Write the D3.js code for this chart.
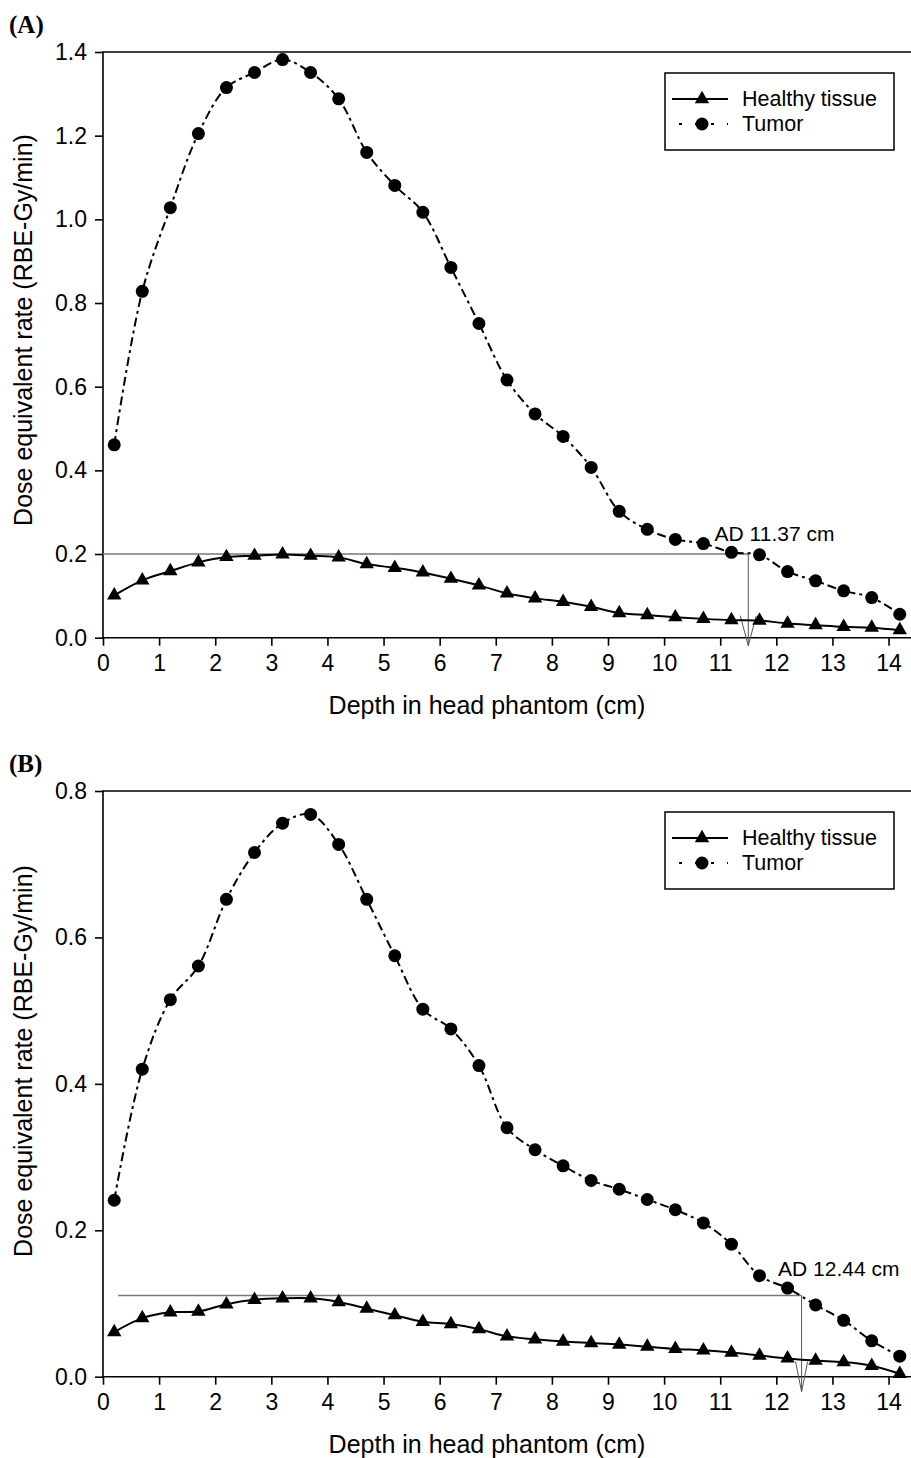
<!DOCTYPE html>
<html lang="en">
<head>
<meta charset="UTF-8">
<title>Dose equivalent rate vs depth</title>
<script src="https://cdnjs.cloudflare.com/ajax/libs/d3/7.8.5/d3.min.js"></script>
<style>
  * { margin: 0; padding: 0; }
  body { background: #fff; }
  svg { display: block; font-family: "Liberation Sans", Arial, sans-serif; }
  .axis line { stroke: #000; stroke-width: 1.6; }
  .axis .domain { display: none; }
  .axis text { font-size: 23px; fill: #000; }
</style>
</head>
<body>
<svg id="chart" width="911" height="1458"></svg>
<script>
// depth positions (cm)
const depth = [0.2, 0.7, 1.2, 1.7, 2.2, 2.7, 3.2, 3.7, 4.2, 4.7, 5.2, 5.7, 6.2, 6.7, 7.2,
               7.7, 8.2, 8.7, 9.2, 9.7, 10.2, 10.7, 11.2, 11.7, 12.2, 12.7, 13.2, 13.7, 14.2];

// panel A
const healthyA = [0.101, 0.137, 0.159, 0.180, 0.193, 0.196, 0.199, 0.196, 0.192, 0.176, 0.167, 0.156, 0.141, 0.125, 0.106,
                  0.094, 0.086, 0.074, 0.059, 0.054, 0.049, 0.045, 0.042, 0.041, 0.034, 0.030, 0.026, 0.024, 0.018];
const tumorA = [0.461, 0.828, 1.028, 1.205, 1.315, 1.351, 1.382, 1.351, 1.288, 1.160, 1.081, 1.017, 0.885, 0.751, 0.616,
                0.535, 0.481, 0.407, 0.302, 0.259, 0.235, 0.225, 0.204, 0.198, 0.158, 0.136, 0.112, 0.096, 0.056];

// panel B
const healthyB = [0.061, 0.080, 0.088, 0.089, 0.099, 0.105, 0.107, 0.107, 0.102, 0.093, 0.084, 0.075, 0.072, 0.065, 0.055,
                  0.051, 0.048, 0.046, 0.044, 0.041, 0.038, 0.036, 0.033, 0.029, 0.025, 0.022, 0.020, 0.015, 0.004];
const tumorB = [0.241, 0.420, 0.515, 0.561, 0.652, 0.716, 0.756, 0.768, 0.727, 0.652, 0.575, 0.502, 0.475, 0.425, 0.340,
                0.310, 0.288, 0.268, 0.256, 0.242, 0.228, 0.210, 0.181, 0.138, 0.121, 0.098, 0.077, 0.049, 0.028];

const xTicks = [0, 1, 2, 3, 4, 5, 6, 7, 8, 9, 10, 11, 12, 13, 14];
const yTicksA = [0, 0.2, 0.4, 0.6, 0.8, 1.0, 1.2, 1.4];
const yTicksB = [0, 0.2, 0.4, 0.6, 0.8];

const seriesNames = ["Healthy tissue", "Tumor"];
const xTitle = "Depth in head phantom (cm)";
const yTitle = "Dose equivalent rate (RBE-Gy/min)";

// advantage depth annotations
const adA = { level: 0.2, depth: 11.5, x0: 0, label: "AD 11.37 cm", lx: 10.9, ly: 0.232 };
const adB = { level: 0.111, depth: 12.45, x0: 0.27, label: "AD 12.44 cm", lx: 12.03, ly: 0.1375 };

const svg = d3.select("#chart");
const tumorDash = "9,4,3,4";

function panel(opt) {
  const x = d3.scaleLinear().domain([0, 14.4]).range([103, 911]);
  const y = d3.scaleLinear().domain([0, opt.yMax]).range([opt.bottom, opt.top]);
  const g = svg.append("g");

  // panel letter
  g.append("text")
    .attr("x", 9).attr("y", opt.top - 19)
    .attr("font-family", "Liberation Serif, Times New Roman, serif")
    .attr("font-weight", "bold").attr("font-size", 25)
    .text(opt.letter);

  g.append("g").attr("class", "axis")
    .attr("transform", `translate(0,${opt.bottom})`)
    .call(d3.axisBottom(x).tickValues(xTicks).tickSize(8).tickPadding(9).tickFormat(d3.format("d")));

  g.append("g").attr("class", "axis")
    .attr("transform", "translate(103,0)")
    .call(d3.axisLeft(y).tickValues(opt.yTicks).tickSize(8).tickPadding(8).tickFormat(d3.format(".1f")));

  // frame: left axis, bottom axis, top line
  g.append("path")
    .attr("d", `M911,${opt.top}H103V${opt.bottom}H911`)
    .attr("fill", "none").attr("stroke", "#000").attr("stroke-width", 1.6);

  // axis titles
  g.append("text")
    .attr("x", 487).attr("y", opt.bottom + 76)
    .attr("text-anchor", "middle").attr("font-size", 25)
    .text(xTitle);
  g.append("text")
    .attr("transform", `translate(32,${opt.titleY}) rotate(-90)`)
    .attr("text-anchor", "middle").attr("font-size", 25)
    .text(yTitle);

  // AD annotation
  const ad = opt.ad;
  g.append("line")
    .attr("x1", x(ad.x0)).attr("x2", x(ad.depth))
    .attr("y1", y(ad.level)).attr("y2", y(ad.level))
    .attr("stroke", "#777").attr("stroke-width", 1.5);
  const tip = opt.bottom + opt.tipOff;
  g.append("line")
    .attr("x1", x(ad.depth)).attr("x2", x(ad.depth))
    .attr("y1", y(ad.level)).attr("y2", tip)
    .attr("stroke", "#555").attr("stroke-width", 1);
  g.append("path")
    .attr("d", `M${x(ad.depth) - opt.headW},${tip - 30}L${x(ad.depth)},${tip}L${x(ad.depth) + opt.headW},${tip - 30}`)
    .attr("fill", "none").attr("stroke", "#555").attr("stroke-width", 1);
  g.append("text")
    .attr("x", x(ad.lx)).attr("y", y(ad.ly))
    .attr("font-size", 21).text(ad.label);

  const line = d3.line()
    .x((d, i) => x(depth[i]))
    .y(d => y(d))
    .curve(d3.curveCatmullRom.alpha(0.5));

  g.append("path").attr("d", line(opt.healthy))
    .attr("fill", "none").attr("stroke", "#000").attr("stroke-width", 2);
  g.append("path").attr("d", line(opt.tumor))
    .attr("fill", "none").attr("stroke", "#000").attr("stroke-width", 2)
    .attr("stroke-dasharray", tumorDash);

  const tri = d3.symbol().type(d3.symbolTriangle).size(90);
  g.selectAll(".tri").data(opt.healthy).join("path")
    .attr("class", "tri")
    .attr("d", tri)
    .attr("transform", (d, i) => `translate(${x(depth[i])},${y(d)})`);
  g.selectAll(".dot").data(opt.tumor).join("circle")
    .attr("class", "dot")
    .attr("cx", (d, i) => x(depth[i])).attr("cy", d => y(d)).attr("r", 6.5);

  // legend
  const lg = g.append("g").attr("transform", `translate(665,${opt.top + 21})`);
  lg.append("rect").attr("width", 229).attr("height", 77)
    .attr("fill", "#fff").attr("stroke", "#000").attr("stroke-width", 1.5);
  lg.append("line").attr("x1", 7).attr("x2", 63).attr("y1", 26).attr("y2", 26)
    .attr("stroke", "#000").attr("stroke-width", 2);
  lg.append("path").attr("d", tri).attr("transform", "translate(37,26)");
  lg.append("line").attr("x1", 14).attr("x2", 63).attr("y1", 51).attr("y2", 51)
    .attr("stroke", "#000").attr("stroke-width", 2).attr("stroke-dasharray", "3,13");
  lg.append("circle").attr("cx", 37).attr("cy", 51).attr("r", 6.5);
  lg.selectAll(".lt").data(seriesNames).join("text")
    .attr("class", "lt")
    .attr("x", 77).attr("y", (d, i) => 33 + i * 25)
    .attr("font-size", 21.5).text(d => d);
}

panel({ letter: "(A)", top: 52, bottom: 637.7, yMax: 1.4, yTicks: yTicksA,
        healthy: healthyA, tumor: tumorA, ad: adA, titleY: 330, tipOff: 8, headW: 8 });
panel({ letter: "(B)", top: 791, bottom: 1376.7, yMax: 0.8, yTicks: yTicksB,
        healthy: healthyB, tumor: tumorB, ad: adB, titleY: 1061, tipOff: 15, headW: 6 });
</script>
</body>
</html>
